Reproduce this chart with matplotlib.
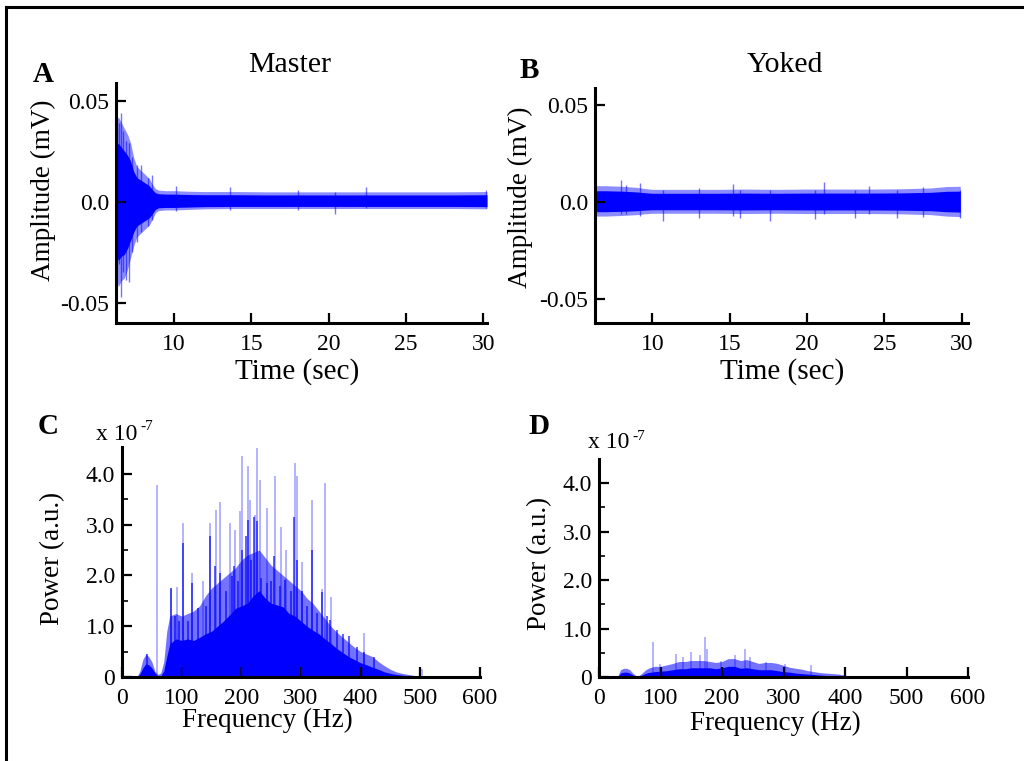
import numpy as np
import matplotlib
matplotlib.use("Agg")
import matplotlib.pyplot as plt
from matplotlib.lines import Line2D
from matplotlib.ticker import FixedLocator, FuncFormatter

plt.rcParams['font.family'] = ['Liberation Serif', 'DejaVu Serif']

W, H = 1024, 761
BLUE = '#0000ff'

# ── Data: time traces (envelopes, mV) ─────────────────────────────────────────
a_t      = [6.25, 6.4, 6.6, 6.8, 7.0, 7.2, 7.4, 7.6, 7.8, 8.0, 8.2, 8.4, 8.6, 8.8, 9.0,
            9.5, 10.0, 11.0, 12.0, 14.0, 16.0, 18.0, 20.0, 22.0, 24.0, 26.0, 28.0, 30.25]
a_hi     = [0.028, 0.029, 0.027, 0.025, 0.023, 0.020, 0.015, 0.012, 0.011, 0.010, 0.009, 0.008,
            0.006, 0.0045, 0.004, 0.0038, 0.0038, 0.0036, 0.0035, 0.0035, 0.0034, 0.0034,
            0.0034, 0.0034, 0.0034, 0.0034, 0.0034, 0.0035]
a_lo     = [-0.026, -0.029, -0.027, -0.026, -0.023, -0.019, -0.015, -0.012, -0.011, -0.010,
            -0.009, -0.008, -0.006, -0.0038, -0.003, -0.0028, -0.0028, -0.0026, -0.0024,
            -0.0023, -0.0023, -0.0023, -0.0023, -0.0023, -0.0023, -0.0023, -0.0023, -0.0024]
a_spk_t  = [6.3, 6.45, 6.55, 6.7, 6.9, 7.1, 7.3, 7.6, 7.85, 8.3, 8.6, 10.1, 13.6, 18.0, 20.4, 22.4, 30.2]
a_spk_hi = [0.036, 0.039, 0.044, 0.035, 0.030, 0.029, 0.022, 0.018, 0.018, 0.012, 0.0135,
            0.008, 0.0075, 0.006, 0.005, 0.0075, 0.006]
a_spk_lo = [-0.030, -0.031, -0.047, -0.035, -0.039, -0.040, -0.025, -0.020, -0.015, -0.012,
            -0.009, -0.0045, -0.004, -0.004, -0.006, -0.003, -0.003]

b_t      = [6.4, 7.0, 8.0, 9.0, 9.5, 10.0, 12.0, 14.0, 16.0, 18.0, 20.0, 22.0, 24.0, 26.0,
            28.0, 29.0, 29.9]
b_hi     = [0.0058, 0.0058, 0.0056, 0.0052, 0.0048, 0.0045, 0.0045, 0.0045, 0.0046, 0.0045,
            0.0046, 0.0046, 0.0046, 0.0047, 0.0050, 0.0055, 0.0056]
b_lo     = [-0.0050, -0.0050, -0.0048, -0.0045, -0.0042, -0.0040, -0.0040, -0.0040, -0.0041,
            -0.0040, -0.0041, -0.0041, -0.0041, -0.0042, -0.0045, -0.0050, -0.0052]
b_spk_t  = [8.0, 8.3, 9.2, 10.7, 13.0, 15.2, 15.7, 17.6, 20.5, 21.1, 23.1, 24.0, 25.8, 27.5, 29.9]
b_spk_hi = [0.0115, 0.009, 0.0098, 0.006, 0.007, 0.0095, 0.006, 0.006, 0.006, 0.0105,
            0.006, 0.0085, 0.006, 0.0075, 0.006]
b_spk_lo = [-0.006, -0.006, -0.007, -0.010, -0.008, -0.007, -0.0085, -0.010, -0.009, -0.006,
            -0.0085, -0.006, -0.0085, -0.0078, -0.0085]

# ── Data: power spectra (x 1e-7) ──────────────────────────────────────────────
c_f     = [25, 30, 35, 40, 45, 50, 55, 60, 65, 70, 75, 80, 90, 100, 110, 120, 130, 140, 150,
           160, 170, 180, 190, 200, 210, 220, 230, 240, 250, 260, 270, 280, 290, 300, 310,
           320, 330, 340, 350, 360, 370, 380, 390, 400, 410, 420, 430, 440, 450, 460, 470,
           480, 490, 500]
c_core  = [0, 0.06, 0.18, 0.26, 0.24, 0.18, 0.08, 0.02, 0.02, 0.12, 0.40, 0.65, 0.75, 0.72,
           0.75, 0.72, 0.78, 0.85, 0.90, 1.00, 1.10, 1.22, 1.35, 1.40, 1.45, 1.60, 1.70, 1.55,
           1.45, 1.42, 1.38, 1.25, 1.20, 1.10, 1.00, 0.92, 0.85, 0.75, 0.66, 0.56, 0.48, 0.40,
           0.34, 0.28, 0.24, 0.19, 0.15, 0.10, 0.07, 0.05, 0.035, 0.025, 0.015, 0]
c_upper = [0, 0.12, 0.35, 0.45, 0.40, 0.30, 0.12, 0.05, 0.08, 0.30, 0.90, 1.20, 1.25, 1.20,
           1.25, 1.30, 1.40, 1.60, 1.75, 1.85, 1.95, 2.05, 2.15, 2.30, 2.40, 2.45, 2.50, 2.35,
           2.20, 2.10, 2.00, 1.90, 1.80, 1.70, 1.55, 1.45, 1.30, 1.15, 1.00, 0.88, 0.78, 0.68,
           0.58, 0.50, 0.45, 0.40, 0.30, 0.22, 0.15, 0.10, 0.07, 0.05, 0.03, 0]
c_pk_f  = [59, 82, 93, 102, 118, 136, 147, 157, 165, 181, 189, 198, 201, 211, 214, 223, 226,
           232, 243, 256, 266, 275, 290, 294, 302, 319, 336, 340, 350, 406, 502]
c_pk_p  = [3.78, 1.74, 1.78, 3.03, 2.04, 1.90, 3.03, 3.29, 3.45, 3.03, 2.89, 3.26, 4.36, 4.16,
           3.49, 3.19, 4.51, 3.88, 3.32, 3.96, 2.96, 2.50, 4.21, 3.95, 2.27, 3.49, 1.74, 3.83,
           1.58, 0.86, 0.15]
c_mid_f = [42, 82, 88, 96, 102, 110, 118, 128, 140, 148, 156, 165, 175, 184, 188, 195, 201,
           208, 212, 217, 221, 226, 233, 243, 250, 255, 265, 274, 283, 289, 293, 302, 310,
           318, 326, 336, 343, 349, 361, 371, 380, 394, 405, 422]
c_mid_p = [0.45, 1.75, 1.20, 1.10, 2.64, 1.10, 1.85, 1.36, 1.40, 2.77, 2.18, 2.05, 1.70,
           1.98, 2.18, 1.90, 2.50, 2.77, 3.10, 2.30, 3.16, 3.07, 1.95, 1.85, 1.90, 2.38, 1.80,
           1.91, 1.70, 3.16, 2.30, 1.70, 1.40, 2.50, 1.26, 1.68, 1.20, 1.13, 0.93, 0.85, 0.80,
           0.60, 0.50, 0.40]

d_f     = [30, 35, 40, 45, 50, 55, 60, 65, 70, 75, 80, 90, 100, 110, 120, 130, 140, 150, 160,
           170, 180, 190, 200, 210, 220, 230, 240, 250, 260, 270, 280, 290, 300, 310, 320,
           330, 340, 350, 360, 370, 380, 390, 400, 410]
d_core  = [0, 0.08, 0.10, 0.10, 0.08, 0.04, 0.02, 0.02, 0.04, 0.07, 0.09, 0.11, 0.12, 0.13,
           0.15, 0.17, 0.17, 0.19, 0.19, 0.19, 0.19, 0.17, 0.19, 0.22, 0.22, 0.18, 0.19, 0.17,
           0.15, 0.15, 0.15, 0.13, 0.11, 0.10, 0.08, 0.07, 0.06, 0.05, 0.04, 0.03, 0.025,
           0.02, 0.01, 0]
d_upper = [0, 0.15, 0.18, 0.18, 0.15, 0.08, 0.03, 0.03, 0.08, 0.14, 0.18, 0.22, 0.22, 0.25,
           0.28, 0.32, 0.32, 0.34, 0.34, 0.34, 0.32, 0.30, 0.32, 0.38, 0.38, 0.34, 0.36, 0.32,
           0.28, 0.30, 0.30, 0.28, 0.24, 0.20, 0.18, 0.16, 0.13, 0.11, 0.09, 0.08, 0.07,
           0.06, 0.04, 0]
d_pk_f  = [87, 99, 126, 137, 150, 164, 172, 175, 199, 221, 237, 245, 272, 302, 345]
d_pk_p  = [0.72, 0.27, 0.48, 0.41, 0.52, 0.45, 0.82, 0.58, 0.34, 0.45, 0.58, 0.41, 0.31,
           0.27, 0.24]

# ── Layout helpers (pixel boxes from the reference) ──────────────────────────
fig = plt.figure(figsize=(W / 100, H / 100), dpi=100)


def add_axes_px(left, top, right, bottom):
    return fig.add_axes([left / W, 1 - bottom / H, (right - left) / W, (bottom - top) / H])


def text_px(x, y, s, **kw):
    kw.setdefault('ha', 'center')
    kw.setdefault('va', 'center')
    fig.text(x / W, 1 - y / H, s, **kw)


def style_axes(ax):
    for side in ['top', 'right']:
        ax.spines[side].set_visible(False)
    for side in ['left', 'bottom']:
        ax.spines[side].set_linewidth(2.2)
    ax.tick_params(which='major', direction='in', length=7, width=1.6, labelsize=17, pad=5)
    ax.tick_params(axis='x', which='major', pad=8)
    ax.tick_params(which='minor', direction='in', length=4, width=1.2)


def draw_trace(ax, t, hi, lo, st, sh, sl):
    t = np.array(t)
    hi = np.array(hi)
    lo = np.array(lo)
    ax.fill_between(t, lo * 1.45, hi * 1.45, color=BLUE, alpha=0.45, lw=0)
    ax.fill_between(t, lo, hi, color=BLUE, lw=0)
    ax.vlines(st, sl, sh, color=BLUE, alpha=0.55, lw=1.0)


def draw_spectrum(ax, f, core, upper, pk_f, pk_p, mid_f=None, mid_p=None):
    ax.fill_between(f, 0, upper, color=BLUE, alpha=0.55, lw=0)
    ax.fill_between(f, 0, core, color=BLUE, lw=0)
    ax.vlines(pk_f, 0, pk_p, color=BLUE, alpha=0.3, lw=1.4)
    if mid_f is not None:
        ax.vlines(mid_f, 0, mid_p, color=BLUE, alpha=0.8, lw=1.1)


# ── A: Master trace ──────────────────────────────────────────────────────────
axA = add_axes_px(116, 83, 487, 323)
draw_trace(axA, a_t, a_hi, a_lo, a_spk_t, a_spk_hi, a_spk_lo)
axA.set_xlim(6.25, 30.25)
axA.set_ylim(-0.0601, 0.0589)
axA.set_xticks([10, 15, 20, 25, 30])
axA.set_yticks([-0.05, 0.0, 0.05])
axA.set_yticklabels(['-0.05', '0.0', '0.05'])
style_axes(axA)

# ── B: Yoked trace ───────────────────────────────────────────────────────────
axB = add_axes_px(595, 88, 968, 323)
draw_trace(axB, b_t, b_hi, b_lo, b_spk_t, b_spk_hi, b_spk_lo)
axB.set_xlim(6.3, 30.4)
axB.set_ylim(-0.0624, 0.0588)
axB.set_xticks([10, 15, 20, 25, 30])
axB.set_yticks([-0.05, 0.0, 0.05])
axB.set_yticklabels(['-0.05', '0.0', '0.05'])
style_axes(axB)

# ── C / D: spectra ───────────────────────────────────────────────────────────
pow_fmt = FuncFormatter(lambda v, p: '0' if v == 0 else f'{v:.1f}')

axC = add_axes_px(122, 447, 480, 677)
draw_spectrum(axC, c_f, c_core, c_upper, c_pk_f, c_pk_p, c_mid_f, c_mid_p)
axC.set_ylim(0, 4.53)

axD = add_axes_px(599, 459, 968, 677)
draw_spectrum(axD, d_f, d_core, d_upper, d_pk_f, d_pk_p)
axD.set_ylim(0, 4.5)

for ax in (axC, axD):
    ax.set_xlim(0, 600)
    ax.set_xticks([0, 100, 200, 300, 400, 500, 600])
    ax.set_yticks([0, 1, 2, 3, 4])
    ax.yaxis.set_minor_locator(FixedLocator([0.5, 1.5, 2.5, 3.5]))
    ax.yaxis.set_major_formatter(pow_fmt)
    style_axes(ax)

# ── Text ─────────────────────────────────────────────────────────────────────
text_px(43, 74, 'A', fontsize=21, fontweight='bold')
text_px(529, 71, 'B', fontsize=21, fontweight='bold')
text_px(48, 427, 'C', fontsize=21, fontweight='bold')
text_px(539, 426, 'D', fontsize=21, fontweight='bold')

text_px(290, 65, 'Master', fontsize=21.5)
text_px(785, 65, 'Yoked', fontsize=21.5)

text_px(297, 372, 'Time (sec)', fontsize=21)
text_px(782, 372, 'Time (sec)', fontsize=21)
text_px(43, 190, 'Amplitude (mV)', fontsize=19.5, rotation=90)
text_px(520, 197, 'Amplitude (mV)', fontsize=19.5, rotation=90)

text_px(267, 720, 'Frequency (Hz)', fontsize=19.5)
text_px(775, 723, 'Frequency (Hz)', fontsize=19.5)
text_px(53, 558, 'Power (a.u.)', fontsize=19.5, rotation=90)
text_px(540, 563, 'Power (a.u.)', fontsize=19.5, rotation=90)

text_px(96, 434, 'x 10', fontsize=17, ha='left')
text_px(140, 427, '-7', fontsize=11, ha='left')
text_px(588, 443, 'x 10', fontsize=17, ha='left')
text_px(632, 436, '-7', fontsize=11, ha='left')

# ── Frame round the figure ───────────────────────────────────────────────────
fig.add_artist(Line2D([6 / W, 1.01], [1 - 7 / H, 1 - 7 / H], transform=fig.transFigure,
                      color='black', lw=2.2))
fig.add_artist(Line2D([6 / W, 6 / W], [-0.01, 1 - 7 / H], transform=fig.transFigure,
                      color='black', lw=2.2))

fig.savefig('out.png', dpi=100)
